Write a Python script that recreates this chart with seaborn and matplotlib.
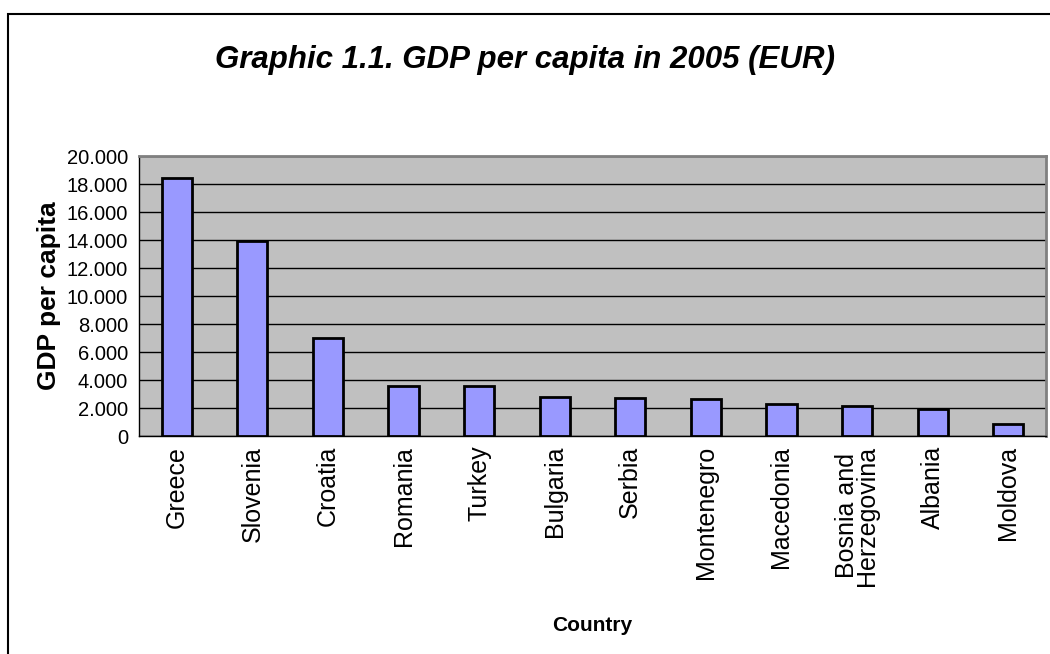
import numpy as np
import pandas as pd
import matplotlib
matplotlib.use('Agg')
import matplotlib.pyplot as plt
import seaborn as sns
from matplotlib.ticker import FuncFormatter, FixedLocator
from matplotlib.patches import Rectangle

# Chart data
countries = ['Greece', 'Slovenia', 'Croatia', 'Romania', 'Turkey', 'Bulgaria',
             'Serbia', 'Montenegro', 'Macedonia', 'Bosnia and\nHerzegovina',
             'Albania', 'Moldova']
gdp_per_capita = [18400, 13900, 7000, 3600, 3550, 2800,
                  2730, 2640, 2300, 2140, 1900, 840]

df = pd.DataFrame({'country': countries, 'gdp': gdp_per_capita})

sns.set_style('white')
plt.rcParams['font.family'] = ['Liberation Sans', 'DejaVu Sans']
plt.rcParams['text.color'] = 'black'
plt.rcParams['axes.labelcolor'] = 'black'
plt.rcParams['xtick.color'] = 'black'
plt.rcParams['ytick.color'] = 'black'

fig = plt.figure(figsize=(10.5, 6.54), dpi=100)
ax = fig.add_axes([139 / 1050, 1 - 436 / 654, (1046 - 139) / 1050, (436 - 156) / 654])

ax.set_facecolor('#C0C0C0')
ax.set_axisbelow(True)
ax.yaxis.grid(True, color='black', linewidth=1)

sns.barplot(data=df, x='country', y='gdp', color='#9999FF', saturation=1,
            width=0.4, edgecolor='black', linewidth=2, ax=ax, zorder=3)

ax.set_ylim(0, 20000)
ax.set_xlim(-0.5, len(countries) - 0.5)
ax.set_yticks(np.arange(0, 20001, 2000))
ax.yaxis.set_major_formatter(FuncFormatter(lambda v, p: f'{v:,.0f}'.replace(',', '.')))

# ticks between categories, labels at centres
ax.xaxis.set_minor_locator(FixedLocator(np.arange(-0.5, len(countries), 1)))
ax.tick_params(axis='x', which='major', length=0, pad=7, labelsize=18, labelrotation=90)
ax.tick_params(axis='x', which='minor', length=6, width=1, color='black', direction='out')
ax.tick_params(axis='y', length=6, width=1, color='black', direction='out', labelsize=14.5, pad=2)
for lbl in ax.get_xticklabels():
    lbl.set_linespacing(0.8)

for side in ['top', 'right']:
    ax.spines[side].set_color('#808080')
    ax.spines[side].set_linewidth(2)
ax.spines['left'].set_color('black')
ax.spines['left'].set_linewidth(1)
ax.spines['bottom'].set_color('black')
ax.spines['bottom'].set_linewidth(1)

ax.set_xlabel('Country', fontsize=15, fontweight='bold', labelpad=22)
ax.set_ylabel('GDP per capita', fontsize=19, fontweight='bold', labelpad=4)

fig.text(0.5, 1 - 60 / 654, 'Graphic 1.1. GDP per capita in 2005 (EUR)',
         ha='center', va='center', fontsize=22.5, fontweight='bold', fontstyle='italic')

# outer chart border
fig.patches.append(Rectangle((8 / 1050, -0.05), 1.1, 1.05 - 13.5 / 654,
                             transform=fig.transFigure, fill=False,
                             edgecolor='black', linewidth=1.5))

fig.savefig('out.png', dpi=100)
